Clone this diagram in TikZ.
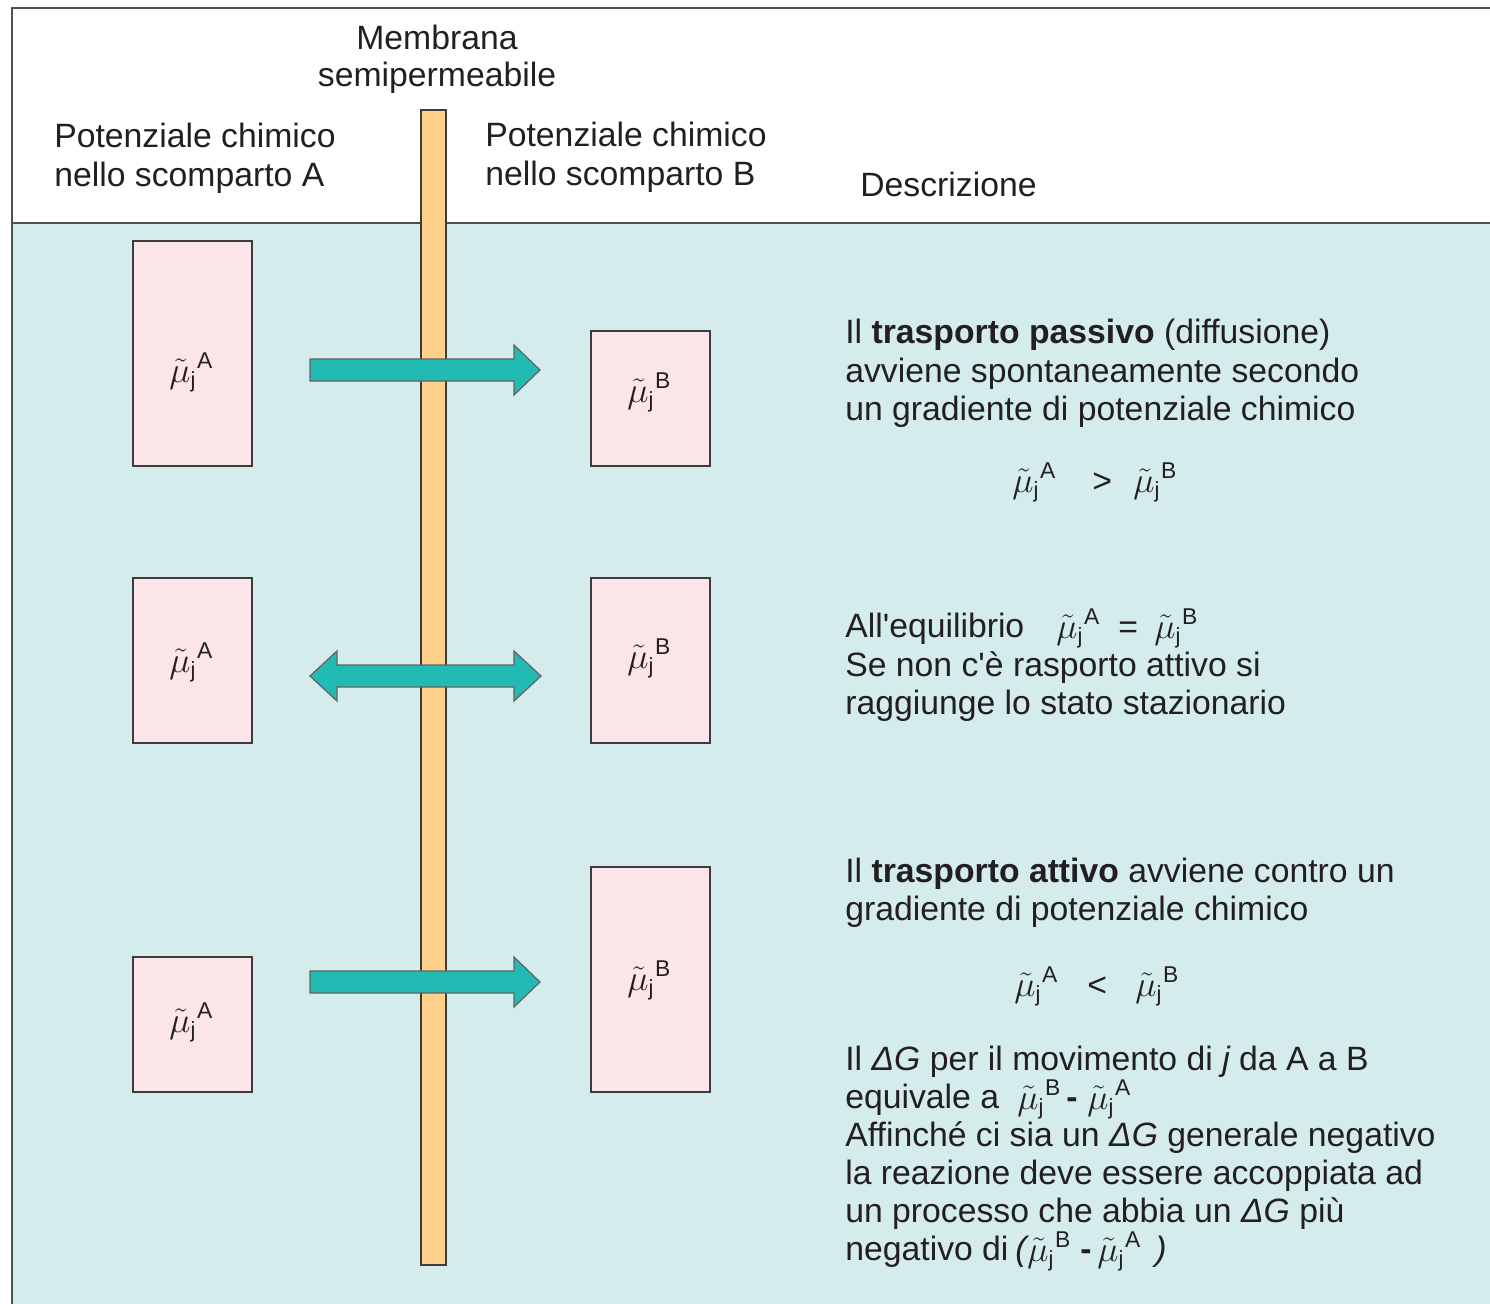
\RequirePackage{fix-cm}
\documentclass[tikz,border=0pt]{standalone}
\usepackage{fontspec}
\setmainfont{Liberation Sans}
\newfontfamily\apfont{Liberation Sans}
\definecolor{bgc}{HTML}{D5ECEC}
\definecolor{pinkc}{HTML}{FCE5E8}
\definecolor{membc}{HTML}{FFD08A}
\definecolor{tealc}{HTML}{22BBB4}
\definecolor{txtc}{HTML}{231F20}
\definecolor{linec}{HTML}{3C3C3C}
\newcommand{\ap}{{\apfont'}}
\newcommand{\mux}[1]{{\fontsize{20.5}{22}\selectfont$\tilde{\mu}_{\hbox{\fontsize{12.5}{12}\selectfont j}}{}^{\hbox{\kern0.5pt\fontsize{13}{13}\selectfont #1}}$}}
\tikzset{
  every node/.style={font=\fontsize{19.2}{22}\selectfont, text=txtc, inner sep=0pt},
  lbl/.style={anchor=base west},
  pbox/.style={draw=linec, fill=pinkc, line width=0.9pt, minimum width=2.38cm},
  arrowshape/.style={fill=tealc, draw=linec!80, line width=0.7pt, line join=miter},
  framec/.style={draw=linec!90, line width=1.1pt}
}
\begin{document}
\begin{tikzpicture}[x=0.02cm,y=-0.02cm]
\useasboundingbox (0,0) rectangle (1490,1304);
% background and frame
\fill[bgc] (12,223) rectangle (1490,1304);
\draw[framec] (1490,8) -- (12,8) -- (12,1304);
\draw[framec] (12,223) -- (1490,223);
% header texts
\node[anchor=base] (mem1) at (437,50) {Membrana};
\node[anchor=base] (mem2) at (437,87) {semipermeabile};
\node[lbl] (pa1) at (54,148) {Potenziale chimico};
\node[lbl] (pa2) at (54,187) {nello scomparto A};
\node[lbl] (pb1) at (485,147) {Potenziale chimico};
\node[lbl] (pb2) at (485,186) {nello scomparto B};
\node[lbl] (desc) at (860,196) {Descrizione};
% membrane
\draw[fill=membc, draw=linec, line width=0.9pt] (421,110) rectangle (446,1265);
% arrows
\draw[arrowshape] (310,359) -- (514,359) -- (514,345) -- (540,370) -- (514,395) -- (514,381) -- (310,381) -- cycle;
\draw[arrowshape] (310,676) -- (337,651) -- (337,665) -- (514,665) -- (514,651) -- (541,676) -- (514,701) -- (514,687) -- (337,687) -- (337,701) -- cycle;
\draw[arrowshape] (310,971) -- (514,971) -- (514,957) -- (540,982) -- (514,1007) -- (514,993) -- (310,993) -- cycle;
% boxes
\node[pbox, minimum height=4.5cm] (a1) at (192.5,353.5) {};
\node[pbox, minimum height=2.7cm] (b1) at (650.5,398.5) {};
\node[pbox, minimum height=3.3cm] (a2) at (192.5,660.5) {};
\node[pbox, minimum height=3.3cm] (b2) at (650.5,660.5) {};
\node[pbox, minimum height=2.7cm] (a3) at (192.5,1024.5) {};
\node[pbox, minimum height=4.5cm] (b3) at (650.5,979.5) {};
% box labels
\node[lbl] (la1) at (169,382) {\mux{A}};
\node[lbl] (lb1) at (627,402) {\mux{B}};
\node[lbl] (la2) at (169,672) {\mux{A}};
\node[lbl] (lb2) at (627,668) {\mux{B}};
\node[lbl] (la3) at (169,1032) {\mux{A}};
\node[lbl] (lb3) at (627,990) {\mux{B}};
% description 1
\node[lbl] (d11) at (845,343) {Il \textbf{trasporto passivo} (diffusione)};
\node[lbl] (d12) at (845,382) {avviene spontaneamente secondo};
\node[lbl] (d13) at (845,420) {un gradiente di potenziale chimico};
\node[lbl] (m11) at (1012,492) {\mux{A}};
\node[lbl] (m12) at (1092,492) {>};
\node[lbl] (m13) at (1133,492) {\mux{B}};
% description 2
\node[lbl] (d21) at (845,637) {All\ap equilibrio};
\node[lbl] (m21) at (1056,638) {\mux{A}};
\node[lbl] (m22) at (1118,638) {=};
\node[lbl] (m23) at (1154,638) {\mux{B}};
\node[lbl] (d22) at (845,676) {Se non c\ap è rasporto attivo si};
\node[lbl] (d23) at (845,714) {raggiunge lo stato stazionario};
% description 3
\node[lbl] (d31) at (845,882) {Il \textbf{trasporto attivo} avviene contro un};
\node[lbl] (d32) at (845,920) {gradiente di potenziale chimico};
\node[lbl] (m31) at (1014,996) {\mux{A}};
\node[lbl] (m32) at (1087,996) {<};
\node[lbl] (m33) at (1135,996) {\mux{B}};
\node[lbl] (d33) at (845,1070) {Il {\itshape ΔG} per il movimento di {\itshape j} da A a B};
\node[lbl] (d34) at (845,1108) {equivale a};
\node[lbl] (m34) at (1017,1109) {\mux{B}};
\node[lbl] (m35) at (1066,1108) {\textbf{-}};
\node[lbl] (m36) at (1087,1109) {\mux{A}};
\node[lbl] (d35) at (845,1146) {Affinché ci sia un {\itshape ΔG} generale negativo};
\node[lbl] (d36) at (845,1184) {la reazione deve essere accoppiata ad};
\node[lbl] (d37) at (845,1222) {un processo che abbia un {\itshape ΔG} più};
\node[lbl] (d38) at (845,1260) {negativo di};
\node[lbl] (m37) at (1015,1260) {\textit{(}};
\node[lbl] (m38) at (1027,1261) {\mux{B}};
\node[lbl] (m39) at (1080,1260) {\textbf{-}};
\node[lbl] (m40) at (1097,1261) {\mux{A}};
\node[lbl] (m41) at (1155,1260) {\textit{)}};
\end{tikzpicture}
\end{document}
